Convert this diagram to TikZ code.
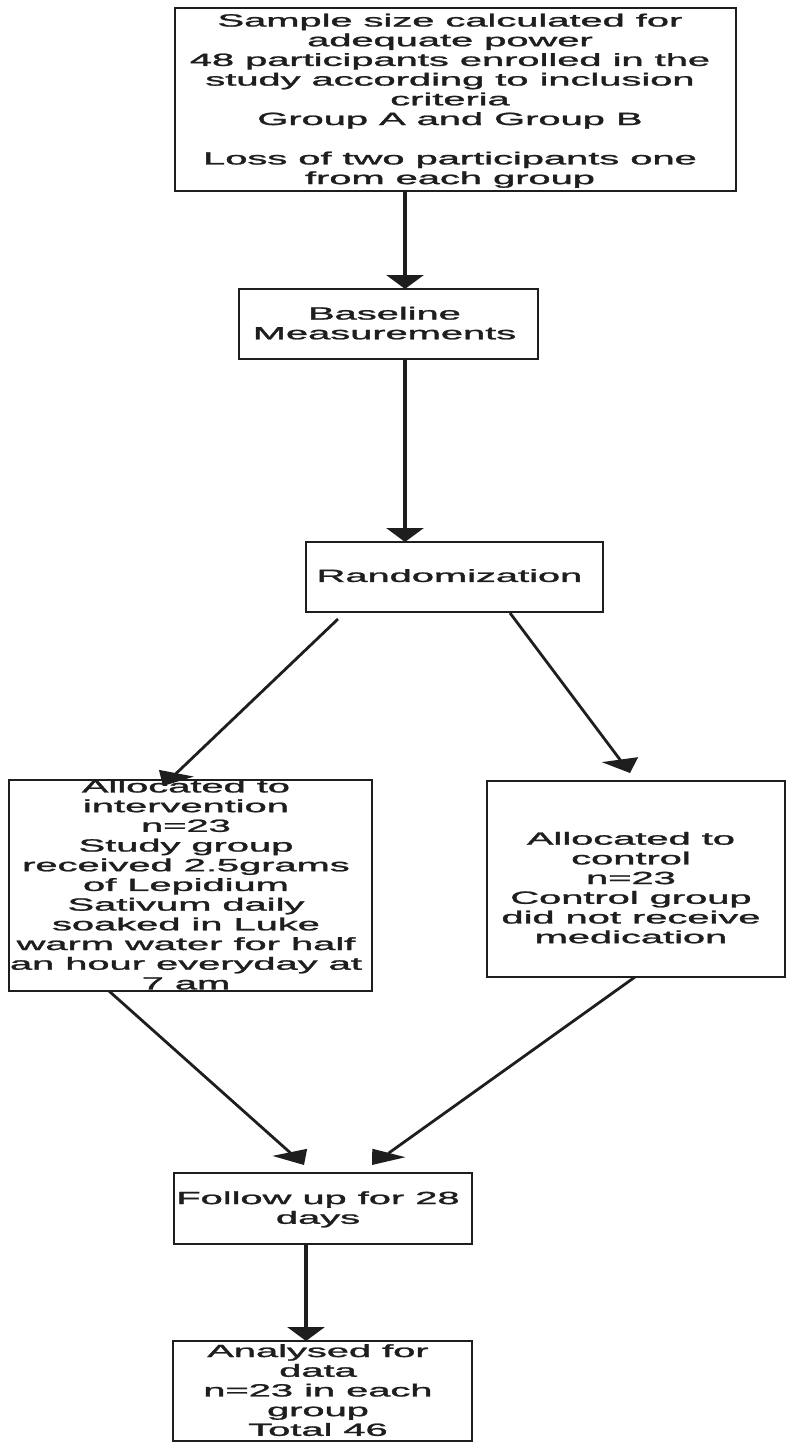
\documentclass[tikz,border=0pt]{standalone}
\usepackage{fontspec}
\setmainfont{Liberation Sans}
\newfontfamily\labfont[FakeBold=1.2]{Liberation Sans}
\usepackage{graphicx}
\usetikzlibrary{arrows.meta}
\definecolor{ink}{HTML}{1E1E1E}
\newcommand{\wide}[1]{\scalebox{2.25}[1]{\begin{tabular}{@{}c@{}}#1\end{tabular}}}
\begin{document}
\begin{tikzpicture}[x=1pt,y=-1pt,
  box/.style={draw=ink, line width=2.6pt, inner sep=0pt},
  txt/.style={inner sep=0pt, text=ink, font=\labfont\fontsize{17.7}{19.7}\selectfont},
  conn/.style={draw=ink, line width=2.8pt},
  vtip/.style={conn, line width=3.4pt, -{Triangle[width=37pt,length=14pt]}}
  ]
\fill[white] (0,0) rectangle (794,1447);
\useasboundingbox (0,0) rectangle (794,1447);

% boxes
\node[box, minimum width=561pt, minimum height=183pt] (top) at (455.5,99.5) {};
\node[box, minimum width=299pt, minimum height=70pt] (base) at (388.5,324) {};
\node[box, minimum width=297pt, minimum height=70pt] (rand) at (454.5,577) {};
\node[box, minimum width=363pt, minimum height=211pt] (left) at (190.5,885.5) {};
\node[box, minimum width=298pt, minimum height=196pt] (right) at (636,879) {};
\node[box, minimum width=298pt, minimum height=71pt] (follow) at (323,1208.5) {};
\node[box, minimum width=299pt, minimum height=100pt] (anal) at (322.5,1391) {};

% texts
\node[txt] (toptxt) at (450,101.4) {\wide{Sample size calculated for\\ adequate power\\ 48 participants enrolled in the\\ study according to inclusion\\ criteria\\ Group A and Group B\\ \\ Loss of two participants one\\ from each group}};
\node[txt] (basetxt) at (384.5,325.5) {\wide{Baseline\\ Measurements}};
\node[txt] (randtxt) at (449.5,578) {\wide{Randomization}};
\node[txt] (lefttxt) at (186,887) {\wide{Allocated to\\ intervention\\ n=23\\ Study group\\ received 2.5grams\\ of Lepidium\\ Sativum daily\\ soaked in Luke\\ warm water for half\\ an hour everyday at\\ 7 am}};
\node[txt] (righttxt) at (631,890) {\wide{Allocated to\\ control\\ n=23\\ Control group\\ did not receive\\ medication}};
\node[txt] (followtxt) at (318,1210) {\wide{Follow up for 28\\ days}};
\node[txt] (analtxt) at (318,1392.5) {\wide{Analysed for\\ data\\ n=23 in each\\ group\\ Total 46}};

% connector end points
\coordinate (s1) at (405,191);
\coordinate (e1) at (405,289);
\coordinate (s2) at (405,359);
\coordinate (e2) at (405,542);
\coordinate (s3) at (338,619);
\coordinate (e3) at (163,786);
\coordinate (s4) at (510,613);
\coordinate (e4) at (630,773);
\coordinate (s5) at (109,991);
\coordinate (e5) at (304,1165);
\coordinate (s6) at (635,977);
\coordinate (e6) at (372,1165);
\coordinate (s7) at (306,1244);
\coordinate (e7) at (306,1341);

% connectors
\draw[vtip] (s1) -- (e1);
\draw[vtip] (s2) -- (e2);
\draw[conn, -{Triangle[width=28.3pt,length=18.5pt,slant=-0.713]}] (s3) -- (e3);
\draw[conn, -{Triangle[width=31.5pt,length=16.7pt,slant=0.556]}] (s4) -- (e4);
\draw[conn, -{Triangle[width=27.7pt,length=19pt,slant=0.745]}] (s5) -- (e5);
\draw[conn, -{Triangle[width=25.4pt,length=20.7pt,slant=-0.842]}] (s6) -- (e6);
\draw[vtip] (s7) -- (e7);
\end{tikzpicture}
\end{document}
